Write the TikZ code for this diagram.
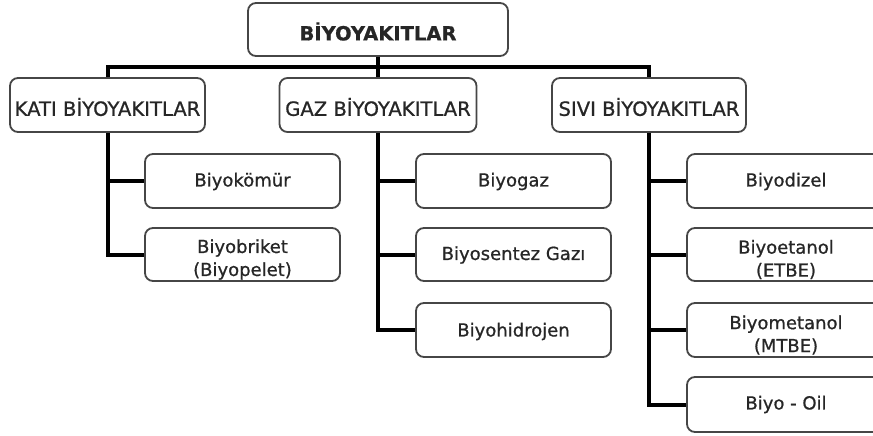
\documentclass[tikz,border=0pt]{standalone}
\usepackage{fontspec}
\setmainfont[FakeBold=0.8]{DejaVu Sans}
\definecolor{boxgray}{RGB}{70,70,70}
\begin{document}
\begin{tikzpicture}[x=1pt,y=-1pt,
  box/.style={draw=boxgray, line width=1.8pt, rounded corners=8pt, inner sep=0pt, fill=white},
  lbl/.style={font=\fontsize{18}{23}\selectfont, inner sep=0pt, align=center, text=black!85},
  lbltwo/.style={lbl, font=\fontsize{19.6}{23}\selectfont},
  link/.style={line width=4pt, black}]
\useasboundingbox (0,0) rectangle (873,436);
\clip (0,0) rectangle (873,436);

% top
\node[box, minimum width=260pt, minimum height=53pt,
  label={[lbl, font=\fontsize{19.5}{23}\selectfont\bfseries, anchor=base, yshift=-2pt]center:BİYOYAKITLAR}] (top) at (378,29.5) {};

% level 2
\node[box, minimum width=195pt, minimum height=54pt,
  label={[lbltwo, anchor=base, yshift=-2pt]center:KATI BİYOYAKITLAR}] (kati) at (107.5,105) {};
\node[box, minimum width=197pt, minimum height=54pt,
  label={[lbltwo, anchor=base, yshift=-2pt]center:GAZ BİYOYAKITLAR}] (gaz) at (378,105) {};
\node[box, minimum width=194pt, minimum height=54pt,
  label={[lbltwo, anchor=base, yshift=-2pt]center:SIVI BİYOYAKITLAR}] (sivi) at (649,105) {};

% level 3 left
\node[box, minimum width=195pt, minimum height=54pt,
  label={[lbl, anchor=base, yshift=-0.5pt]center:Biyokömür}] (komur) at (242.5,181) {};
\node[box, minimum width=195pt, minimum height=53pt,
  label={[lbl, yshift=-5pt]center:Biyobriket\\(Biyopelet)}] (briket) at (242.5,254.5) {};

% level 3 middle
\node[box, minimum width=195pt, minimum height=54pt,
  label={[lbl, anchor=base, yshift=-0.5pt]center:Biyogaz}] (biyogaz) at (513.5,181) {};
\node[box, minimum width=195pt, minimum height=53pt,
  label={[lbl, anchor=base, yshift=-0.5pt]center:Biyosentez Gazı}] (sentez) at (513.5,254.5) {};
\node[box, minimum width=195pt, minimum height=54pt,
  label={[lbl, anchor=base, yshift=-1.5pt]center:Biyohidrojen}] (hidrojen) at (513.5,330) {};

% level 3 right
\node[box, minimum width=198pt, minimum height=54pt,
  label={[lbl, anchor=base, yshift=-0.5pt]center:Biyodizel}] (dizel) at (786,181) {};
\node[box, minimum width=198pt, minimum height=53pt,
  label={[lbl, yshift=-5pt]center:Biyoetanol\\(ETBE)}] (etanol) at (786,254.5) {};
\node[box, minimum width=198pt, minimum height=54pt,
  label={[lbl, yshift=-5pt]center:Biyometanol\\(MTBE)}] (metanol) at (786,330) {};
\node[box, minimum width=198pt, minimum height=55pt,
  label={[lbl, anchor=base, yshift=0pt]center:Biyo - Oil}] (oil) at (786,404.5) {};

% connectors top
\coordinate (bar) at (378,67);
\draw[link] (top.south) -- (gaz.north);
\draw[link] (kati.north) -- (kati.north |- bar) -- (sivi.north |- bar) -- (sivi.north);

% connectors left
\draw[link] (kati.south) |- (briket.west);
\draw[link] (kati.south |- komur.west) -- (komur.west);

% connectors middle
\draw[link] (gaz.south) |- (hidrojen.west);
\draw[link] (gaz.south |- biyogaz.west) -- (biyogaz.west);
\draw[link] (gaz.south |- sentez.west) -- (sentez.west);

% connectors right
\draw[link] (sivi.south) |- (oil.west);
\draw[link] (sivi.south |- dizel.west) -- (dizel.west);
\draw[link] (sivi.south |- etanol.west) -- (etanol.west);
\draw[link] (sivi.south |- metanol.west) -- (metanol.west);
\end{tikzpicture}
\end{document}
